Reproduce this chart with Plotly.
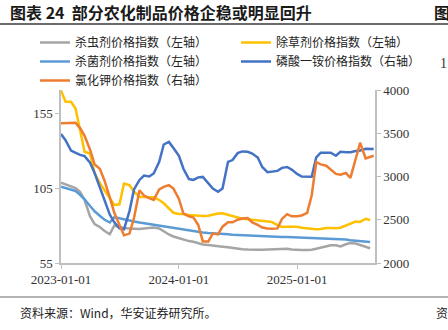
import plotly.graph_objects as go
import pandas as pd

dates = list(pd.date_range("2023-01-01", "2025-08-15", freq="SMS").strftime("%Y-%m-%d")) + ["2025-08-26"]

insecticide = [108.5, 107.5, 106.5, 105, 102.5, 97, 86, 81, 79, 76.5, 74.2, 80, 79, 78.3, 78, 77.7,
               77.6, 78, 78.3, 78.6, 78, 76, 74, 72.7, 71.5, 70.5, 69.6, 69.2, 68, 67.4, 67, 66.5,
               66, 65.9, 65.5, 65, 64.6, 64.2, 64, 63.8, 63.8, 63.9, 64, 64.2, 64.5, 64.7,
               64.5, 64, 63.7, 63.7, 63.7, 63.8, 64.5, 65.2, 66, 66.8, 66.8, 66, 67.5, 68.3,
               68, 67, 66, 64.8, None]
herbicide = [170, 162.5, 162.5, 158, 143.7, 129.2, 128, 115, 108.3, 103.7, 98.5, 93.7, 94.1, 108, 107, 102.5,
             99.2, 98.9, 98.8, 98.8, 97, 94.8, 91.4, 88.5, 87.7, 87.7, 87, 86.8, 86.3, 86.3, 86.5, 87.2,
             88, 88.1, 87.2, 86.3, 85.2, 84.5, 84.1, 83.7, 83.7, 83.2, 82.8, 82.3, 80.3, 79,
             79.2, 79.2, 79.2, 78.5, 78.1, 78.1, 77.5, 77.7, 78.4, 78.4, 78.1, 78.5, 79.9, 80.8,
             82.6, 82.4, 84.5, 83.7, None]
fungicide = [105.8, 105, 104, 103, 100.5, 97.5, 93, 89.5, 86.5, 84, 82, 85.5, 84.8, 84, 83.3, 82.7,
             82, 81.5, 81, 80.6, 80, 79.3, 78.7, 78.2, 77.6, 77.2, 76.7, 76.3, 75.8, 75.4, 75, 74.9,
             74.8, 74.5, 74.2, 73.9, 73.7, 73.5, 73.4, 73.3, 73.2, 73.1, 73, 72.8, 72.6, 72.4,
             72.3, 72.2, 72.1, 72, 71.9, 71.8, 71.7, 71.6, 71.5, 71.4, 71.2, 71, 70.6, 70.2,
             69.8, 69.4, 69.2, 69.0, None]
map_price = [3490, 3420, 3300, 3270, 3250, 3235, 3160, 3040, 2880, 2720, 2560, 2470, 2400, 2390, 2600, 2850,
             2960, 3010, 3000, 3035, 3170, 3370, 3400, 3330, 3240, 3090, 2970, 2960, 2990, 2995, 2920, 2860,
             2824, 2860, 3170, 3190, 3270, 3290, 3285, 3265, 3220, 3110, 3050, 3060, 3065, 3100,
             3110, 3080, 3030, 3000, 3000, 2998, 3220, 3275, 3275, 3275, 3240, 3285, 3280, 3280,
             3295, 3300, 3320, 3320, 3318]
kcl_price = [3615, 3615, 3615, 3620, 3560, 3470, 3310, 3140, 3090, 2960, 2760, 2580, 2440, 2320, 2340, 2520,
             2840, 2780, 2750, 2730, 2850, 2880, 2900, 2860, 2740, 2570, 2540, 2525, 2440, 2250, 2250, 2340,
             2330, 2420, 2470, 2470, 2500, 2515, 2520, 2470, 2440, 2410, 2400, 2395, 2400, 2510,
             2565, 2540, 2540, 2550, 2580, 2780, 3165, 3140, 3125, 3080, 3030, 3020, 3040, 2985,
             3200, 3390, 3210, 3225, 3240]

names = ["杀虫剂价格指数（左轴）", "除草剂价格指数（左轴）", "杀菌剂价格指数（左轴）",
         "磷酸一铵价格指数（右轴）", "氯化钾价格指数（右轴）"]
series = [insecticide, herbicide, fungicide, map_price, kcl_price]
colors = ["#A5A5A5", "#FFC000", "#5B9BD5", "#4472C4", "#ED7D31"]
axes = ["y", "y", "y", "y2", "y2"]
legend_cols = ["legend", "legend2", "legend", "legend2", "legend"]

left_ticks = [55, 105, 155]
right_ticks = [2000, 2500, 3000, 3500, 4000]
x_ticks = ["2023-01-01", "2024-01-01", "2025-01-01"]

fig = go.Figure()
for nm, s, c, ax, lg in zip(names, series, colors, axes, legend_cols):
    fig.add_trace(go.Scatter(x=dates, y=s, name=nm, yaxis=ax, mode="lines", legend=lg,
                             line=dict(color=c, width=2.5), connectgaps=False))

L, R, T, B = 61, 73, 90, 67
W, H = 448, 330
pw, ph = W - L - R, H - T - B

def px(x):
    return (x - L) / pw

def py(y):
    return (H - B - y) / ph

legfont = dict(family="Noto Sans CJK SC", size=12, color="#222222")
tickfont = dict(family="Liberation Serif", size=13, color="#333333")
fig.update_layout(
    width=W, height=H,
    margin=dict(l=L, r=R, t=T, b=B, autoexpand=False),
    paper_bgcolor="white", plot_bgcolor="white",
    showlegend=True,
    legend=dict(orientation="v", x=px(35), y=py(28), xanchor="left", yanchor="top",
                font=legfont, bgcolor="rgba(0,0,0,0)"),
    legend2=dict(orientation="v", x=px(236), y=py(28), xanchor="left", yanchor="top",
                 font=legfont, bgcolor="rgba(0,0,0,0)"),
    xaxis=dict(range=["2023-01-01", "2025-08-30"], tickvals=x_ticks, ticktext=x_ticks,
               showgrid=False, zeroline=False, showline=True, linecolor="#BFBFBF", linewidth=1.5,
               ticks="outside", ticklen=4, tickcolor="#BFBFBF", tickfont=tickfont),
    yaxis=dict(range=[55, 55 + 173 / 75 * 50], tickvals=left_ticks, showgrid=False, zeroline=False,
               showline=True, linecolor="#BFBFBF", linewidth=1.5, ticks="outside", ticklen=4,
               tickcolor="#BFBFBF", tickfont=tickfont),
    yaxis2=dict(range=[2000, 4000], tickvals=right_ticks, overlaying="y", side="right",
                showgrid=False, zeroline=False, showline=True, linecolor="#BFBFBF", linewidth=1.5,
                ticks="outside", ticklen=4, tickcolor="#BFBFBF", tickfont=tickfont),
)

# header and footer rules
fig.add_shape(type="line", xref="paper", yref="paper", x0=px(0), x1=px(448), y0=py(24), y1=py(24),
              line=dict(color="#3a3a3a", width=1.5))
fig.add_shape(type="line", xref="paper", yref="paper", x0=px(0), x1=px(448), y0=py(297), y1=py(297),
              line=dict(color="#9a9a9a", width=1.5))

fig.add_annotation(text="<b>图表 24  部分农化制品价格企稳或明显回升</b>", xref="paper", yref="paper",
                   x=px(8), y=py(12), xanchor="left", yanchor="middle", showarrow=False,
                   font=dict(family="Noto Sans CJK SC", size=16, color="#1a1a1a"))
fig.add_annotation(text="<b>图</b>", xref="paper", yref="paper", x=px(432), y=py(12), xanchor="left",
                   yanchor="middle", showarrow=False,
                   font=dict(family="Noto Sans CJK SC", size=16, color="#1a1a1a"))
fig.add_annotation(text="资料来源：Wind，华安证券研究所。", xref="paper", yref="paper",
                   x=px(18), y=py(312), xanchor="left", yanchor="middle", showarrow=False,
                   font=dict(family="Noto Sans CJK SC", size=12, color="#222222"))
fig.add_annotation(text="资", xref="paper", yref="paper", x=px(434), y=py(312), xanchor="left",
                   yanchor="middle", showarrow=False,
                   font=dict(family="Noto Sans CJK SC", size=12, color="#222222"))
fig.add_annotation(text="1", xref="paper", yref="paper", x=px(438), y=py(64), xanchor="left",
                   yanchor="middle", showarrow=False,
                   font=dict(family="Liberation Serif", size=14, color="#333333"))

fig.write_html("out.html")
